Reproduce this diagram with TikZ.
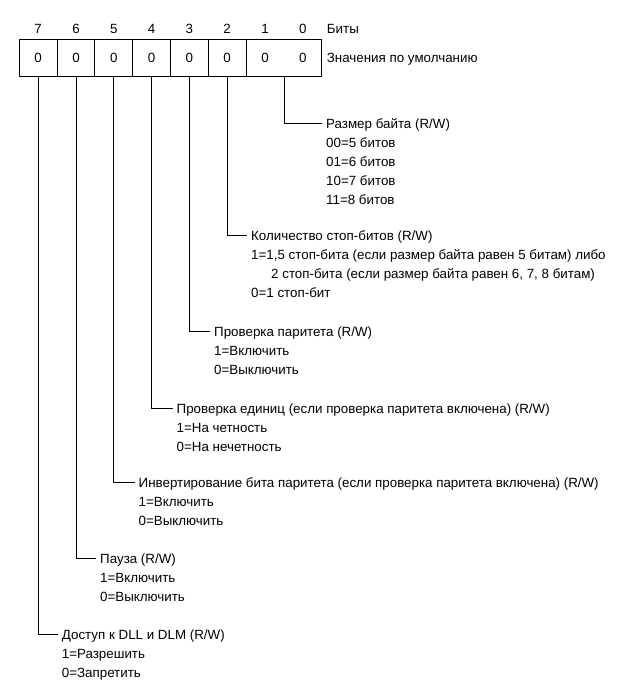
\documentclass[tikz,border=0pt]{standalone}
\usepackage{fontspec}
\setmainfont{Liberation Sans}
\usetikzlibrary{positioning, calc}

\newcommand{\vstrut}{\rule{0pt}{14pt}}

\begin{document}
\begin{tikzpicture}[x=1pt, y=1pt,
    every node/.style={font=\fontsize{13.35}{19}\selectfont},
    cell/.style={rectangle, draw, line width=0.9pt, minimum width=37.8pt, minimum height=37.5pt, inner sep=0pt, outer sep=0pt},
    widecell/.style={cell, minimum width=75.6pt},
    bitnum/.style={inner sep=0pt, text height=9.5pt, text depth=0pt},
    note/.style={inner sep=0pt, text height=9.5pt, text depth=0pt, anchor=west},
    fieldname/.style={anchor=west, inner xsep=4pt, inner ysep=0pt, text height=10pt, text depth=0pt},
    fieldvals/.style={anchor=north west, align=left, inner xsep=4pt, inner ysep=0pt},
    wire/.style={line width=0.8pt}]

  \useasboundingbox (0,0) rectangle (624,-700);

  % register cells
  \node[cell] (b7) at (38.2,-57.8) {0};
  \node[cell, right=0pt of b7] (b6) {0};
  \node[cell, right=0pt of b6] (b5) {0};
  \node[cell, right=0pt of b5] (b4) {0};
  \node[cell, right=0pt of b4] (b3) {0};
  \node[cell, right=0pt of b3] (b2) {0};
  \node[widecell, right=0pt of b2] (b10) {};
  \node[bitnum] (v1) at ($(b10.west)!0.25!(b10.east)$) {0};
  \node[bitnum] (v0) at ($(b10.west)!0.75!(b10.east)$) {0};
  \coordinate (c1) at (v1 |- b10.north);
  \coordinate (c0) at (v0 |- b10.north);

  % bit numbers
  \node[bitnum, above=5pt of b7] (n7) {7};
  \node[bitnum, above=5pt of b6] (n6) {6};
  \node[bitnum, above=5pt of b5] (n5) {5};
  \node[bitnum, above=5pt of b4] (n4) {4};
  \node[bitnum, above=5pt of b3] (n3) {3};
  \node[bitnum, above=5pt of b2] (n2) {2};
  \node[bitnum, above=5pt of c1] (n1) {1};
  \node[bitnum, above=5pt of c0] (n0) {0};
  \node[note, right=20pt of n0] (bits) {Биты};
  \node[note, right=5pt of b10] (defaults) {Значения по умолчанию};

  % field descriptions
  \node[fieldname] (t10) at (322,-123.5) {Размер байта (R/W)};
  \node[fieldvals] (d10) at ([yshift=-5pt]t10.south west) {\vstrut 00=5 битов\\01=6 битов\\10=7 битов\\11=8 битов};

  \node[fieldname] (t2) at (247,-235.5) {Количество стоп-битов (R/W)};
  \node[fieldvals] (d2) at ([yshift=-5pt]t2.south west) {\vstrut 1=1,5 стоп-бита (если размер байта равен 5 битам) либо\\\hspace*{20pt}2 стоп-бита (если размер байта равен 6, 7, 8 битам)\\0=1 стоп-бит};

  \node[fieldname] (t3) at (210,-331) {Проверка паритета (R/W)};
  \node[fieldvals] (d3) at ([yshift=-5pt]t3.south west) {\vstrut 1=Включить\\0=Выключить};

  \node[fieldname] (t4) at (172.5,-408) {Проверка единиц (если проверка паритета включена) (R/W)};
  \node[fieldvals] (d4) at ([yshift=-5pt]t4.south west) {\vstrut 1=На четность\\0=На нечетность};

  \node[fieldname] (t5) at (134.5,-482.3) {Инвертирование бита паритета (если проверка паритета включена) (R/W)};
  \node[fieldvals] (d5) at ([yshift=-5pt]t5.south west) {\vstrut 1=Включить\\0=Выключить};

  \node[fieldname] (t6) at (96,-558) {Пауза (R/W)};
  \node[fieldvals] (d6) at ([yshift=-5pt]t6.south west) {\vstrut 1=Включить\\0=Выключить};

  \node[fieldname] (t7) at (57.7,-634) {Доступ к DLL и DLM (R/W)};
  \node[fieldvals] (d7) at ([yshift=-5pt]t7.south west) {\vstrut 1=Разрешить\\0=Запретить};

  % leaders
  \draw[wire] (b10.south) |- (t10.west);
  \draw[wire] (b2.south) |- (t2.west);
  \draw[wire] (b3.south) |- (t3.west);
  \draw[wire] (b4.south) |- (t4.west);
  \draw[wire] (b5.south) |- (t5.west);
  \draw[wire] (b6.south) |- (t6.west);
  \draw[wire] (b7.south) |- (t7.west);
\end{tikzpicture}
\end{document}
